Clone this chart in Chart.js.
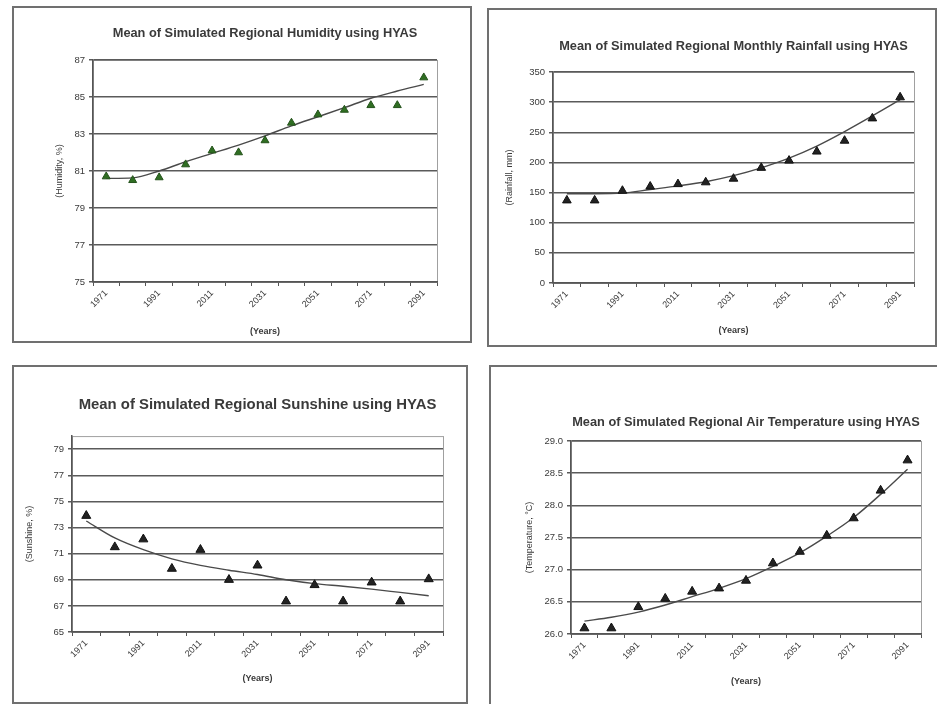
<!DOCTYPE html>
<html>
<head>
<meta charset="utf-8">
<script src="https://cdn.jsdelivr.net/npm/chart.js@4"></script>
<style>
  body { margin: 0; background: #fff; width: 937px; height: 704px; position: relative; overflow: hidden; }
  .panel { position: absolute; border: 2px solid #707070; box-sizing: border-box; background: #fff; overflow: hidden; }
  .panel canvas { position: absolute; left: 0; top: 0; }
</style>
</head>
<body>
<div class="panel" style="left:12px;top:6px;width:460px;height:337px"><canvas id="humidityChart" width="456" height="333"></canvas></div>
<div class="panel" style="left:487px;top:8px;width:450px;height:339px"><canvas id="rainfallChart" width="446" height="335"></canvas></div>
<div class="panel" style="left:12px;top:365px;width:456px;height:339px"><canvas id="sunshineChart" width="452" height="335"></canvas></div>
<div class="panel" style="left:489px;top:365px;width:452px;height:341px"><canvas id="temperatureChart" width="448" height="337"></canvas></div>
<script>
// categories (every 10 years), labels shown every other one
const years = ["1971", "1981", "1991", "2001", "2011", "2021", "2031", "2041", "2051", "2061", "2071", "2081", "2091"];

// simulated means (triangles) and trend line read at each year
const humidity = [80.7, 80.5, 80.65, 81.35, 82.1, 82.0, 82.65, 83.6, 84.05, 84.3, 84.55, 84.55, 86.05];
const humidityTrend = [80.6, 80.63, 81.0, 81.5, 81.95, 82.4, 82.9, 83.44, 83.93, 84.42, 84.93, 85.32, 85.68];
const humidityTicks = [75, 77, 79, 81, 83, 85, 87];

const rainfall = [137, 137, 153, 160, 164, 167, 173, 191, 203, 218, 236, 273, 308];
const rainfallTrend = [148, 148, 149, 155, 161, 168, 178, 191, 207, 227, 251, 277, 304];
const rainfallTicks = [0, 50, 100, 150, 200, 250, 300, 350];

const sunshine = [73.9, 71.5, 72.1, 69.85, 71.3, 69.0, 70.1, 67.35, 68.6, 67.35, 68.8, 67.35, 69.05];
const sunshineTrend = [73.5, 72.2, 71.3, 70.6, 70.1, 69.73, 69.4, 69.0, 68.7, 68.5, 68.28, 68.03, 67.78];
const sunshineTicks = [65, 67, 69, 71, 73, 75, 77, 79];

const temperature = [26.09, 26.09, 26.42, 26.55, 26.66, 26.71, 26.83, 27.1, 27.28, 27.53, 27.8, 28.23, 28.7];
const temperatureTrend = [26.2, 26.26, 26.34, 26.45, 26.58, 26.71, 26.86, 27.05, 27.26, 27.52, 27.81, 28.17, 28.56];
const temperatureTicks = [26.0, 26.5, 27.0, 27.5, 28.0, 28.5, 29.0];

const FONT = "'Liberation Sans', Arial, sans-serif";
const TEXT = "#3a3a3a";

// light grey box round the plot area, like Excel
const plotBorder = {
  id: "plotBorder",
  beforeDraw(chart) {
    const a = chart.chartArea;
    const ctx = chart.ctx;
    ctx.save();
    ctx.strokeStyle = "#a0a0a0";
    ctx.lineWidth = 1;
    ctx.strokeRect(a.left + 0.5, a.top + 0.5, a.width, a.height);
    ctx.restore();
  },
};

function drawPanel(id, o) {
  new Chart(document.getElementById(id), {
    type: "line",
    data: {
      labels: years,
      datasets: [
        {
          label: "Trend",
          data: o.trend,
          borderColor: "#4a4a4a",
          borderWidth: 1.4,
          pointRadius: 0,
          cubicInterpolationMode: "monotone",
          fill: false,
          order: 2,
        },
        {
          label: "Mean",
          data: o.values,
          showLine: false,
          pointStyle: "triangle",
          pointRadius: o.markerRadius,
          pointBackgroundColor: o.markerColor,
          pointBorderColor: o.markerEdge,
          pointBorderWidth: 1,
          order: 1,
        },
      ],
    },
    options: {
      responsive: false,
      devicePixelRatio: 1,
      animation: false,
      events: [],
      layout: { padding: { left: 0, top: 0, bottom: 0, right: o.right } },
      plugins: {
        legend: { display: false },
        tooltip: { enabled: false },
        title: {
          display: true,
          fullSize: false, // centred over the plot area
          text: o.title,
          color: TEXT,
          font: { family: FONT, size: o.titleSize, weight: "bold", lineHeight: 1.2 },
          padding: { top: o.titleTop, bottom: o.titleBottom },
        },
      },
      scales: {
        x: {
          offset: true,
          grid: { offset: true, drawOnChartArea: false, drawTicks: true, tickLength: 4, color: "#555" },
          border: { color: "#555", width: 1.5 },
          ticks: {
            autoSkip: false,
            maxRotation: 45,
            minRotation: 45,
            padding: 2,
            color: TEXT,
            font: { family: FONT, size: 9 },
            callback: (v, i) => (i % 2 === 0 ? years[i] : ""),
          },
          title: {
            display: true,
            text: "(Years)",
            color: TEXT,
            font: { family: FONT, size: 9, weight: "bold", lineHeight: 1.2 },
            padding: { top: 0, bottom: o.xTitlePad },
          },
          afterFit: (s) => { s.height = o.xHeight; },
        },
        y: {
          min: o.min,
          max: o.max,
          grid: { color: "#5a5a5a", lineWidth: 1.5, tickLength: 4 },
          border: { color: "#555", width: 1.5 },
          ticks: {
            padding: 4,
            color: TEXT,
            font: { family: FONT, size: 9.5 },
            callback: o.fmt,
          },
          afterBuildTicks: (s) => { s.ticks = o.ticks.map((v) => ({ value: v })); },
          title: {
            display: true,
            text: o.yTitle,
            color: TEXT,
            font: { family: FONT, size: 9, lineHeight: 1.2 },
            padding: { top: o.yTitlePad, bottom: 0 },
          },
          afterFit: (s) => { s.width = o.yWidth; },
        },
      },
    },
    plugins: [plotBorder],
  });
}

drawPanel("humidityChart", {
  title: "Mean of Simulated Regional Humidity using HYAS",
  titleSize: 12.8, titleTop: 17.3, titleBottom: 19.3,
  yTitle: "(Humidity, %)", yTitlePad: 40.6, yWidth: 79,
  xHeight: 59, xTitlePad: 3.6, right: 33,
  min: 75, max: 87, ticks: humidityTicks, fmt: (v) => v,
  values: humidity, trend: humidityTrend,
  markerColor: "#2f6e22", markerEdge: "#24521b", markerRadius: 4.6,
});

drawPanel("rainfallChart", {
  title: "Mean of Simulated Regional Monthly Rainfall using HYAS",
  titleSize: 12.8, titleTop: 28.3, titleBottom: 18.3,
  yTitle: "(Rainfall, mm)", yTitlePad: 15.6, yWidth: 64,
  xHeight: 62, xTitlePad: 8.6, right: 21,
  min: 0, max: 350, ticks: rainfallTicks, fmt: (v) => v,
  values: rainfall, trend: rainfallTrend,
  markerColor: "#222", markerEdge: "#111", markerRadius: 5,
});

drawPanel("sunshineChart", {
  title: "Mean of Simulated Regional Sunshine using HYAS",
  titleSize: 14.9, titleTop: 29.1, titleBottom: 22.1,
  yTitle: "(Sunshine, %)", yTitlePad: 10.6, yWidth: 58,
  xHeight: 70, xTitlePad: 17.6, right: 23,
  min: 65, max: 80, ticks: sunshineTicks, fmt: (v) => v,
  values: sunshine, trend: sunshineTrend,
  markerColor: "#222", markerEdge: "#111", markerRadius: 5.2,
});

drawPanel("temperatureChart", {
  title: "Mean of Simulated Regional Air Temperature using HYAS",
  titleSize: 12.8, titleTop: 47.3, titleBottom: 11.3,
  yTitle: "(Temperature, °C)", yTitlePad: 33.6, yWidth: 80,
  xHeight: 70, xTitlePad: 16.6, right: 18,
  min: 26, max: 29, ticks: temperatureTicks, fmt: (v) => v.toFixed(1),
  values: temperature, trend: temperatureTrend,
  markerColor: "#222", markerEdge: "#111", markerRadius: 5.2,
});
</script>
</body>
</html>
